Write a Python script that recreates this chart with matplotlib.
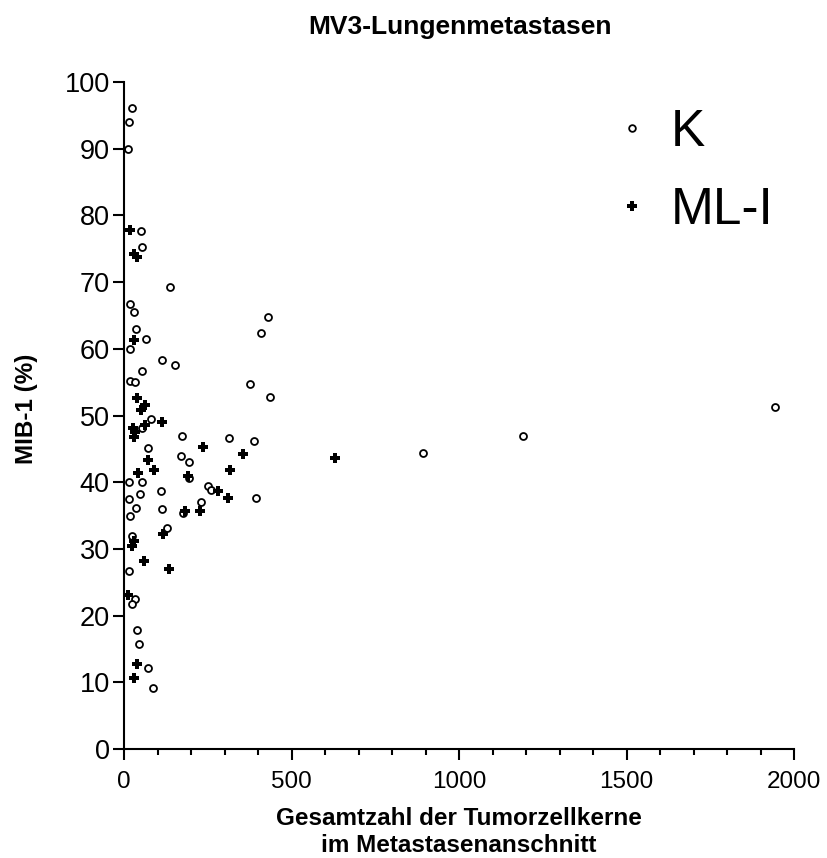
import numpy as np
import matplotlib
matplotlib.use("Agg")
from matplotlib import pyplot as plt
from matplotlib.lines import Line2D

plt.rcParams['font.family'] = ['Liberation Sans', 'DejaVu Sans']

# K group (open circles)
kX = [25, 16, 11, 50, 54, 138, 18, 30, 35, 65, 19, 114, 151, 53, 19, 32, 80, 55,
      174, 73, 171, 193, 193, 16, 55, 252, 260, 110, 48, 16, 229, 37, 113, 176, 19,
      23, 129, 15, 32, 23, 40, 44, 73, 87,
      430, 409, 376, 435, 312, 389, 892, 394, 1192, 1943]
kY = [96.1, 94.0, 90.0, 77.7, 75.2, 69.2, 66.7, 65.5, 63.0, 61.5, 60.0, 58.3, 57.6, 56.6, 55.1, 55.0, 49.5, 48.2,
      46.9, 45.2, 43.9, 43.0, 40.6, 40.1, 40.0, 39.5, 38.9, 38.7, 38.3, 37.5, 37.0, 36.1, 36.0, 35.4, 35.0,
      32.0, 33.1, 26.7, 22.5, 21.7, 17.8, 15.8, 12.2, 9.1,
      64.7, 62.4, 54.7, 52.8, 46.7, 46.2, 44.4, 37.7, 47.0, 51.3]

# ML-I group (plus)
mlX = [18, 30, 40, 29, 40, 62, 51, 112, 63, 28, 33, 31, 236, 72, 89, 43, 192, 282,
       183, 228, 30, 25, 116, 61, 133, 13, 40, 29, 356, 629, 315, 310]
mlY = [77.8, 74.2, 73.7, 61.3, 52.6, 51.6, 50.8, 49.1, 48.6, 48.2, 47.5, 46.8, 45.3, 43.4, 41.9, 41.4, 41.0, 38.7,
       35.7, 35.7, 31.2, 30.4, 32.2, 28.2, 27.0, 23.1, 12.8, 10.6, 44.2, 43.6, 41.8, 37.7]

W, H = 827, 858
fig = plt.figure(figsize=(W / 100, H / 100), dpi=100)
ax = fig.add_axes([124/W, 1 - 749/H, 670/W, 667/H])

ax.plot(kX, kY, 'o', markersize=5.0, markerfacecolor='white', markeredgecolor='black',
        markeredgewidth=1.3, linestyle='none', clip_on=False)
ax.plot(mlX, mlY, 'P', markersize=7.5, color='black', markeredgewidth=0, linestyle='none', clip_on=False)

ax.set_xlim(0, 2000)
ax.set_ylim(0, 100)
ax.spines['top'].set_visible(False)
ax.spines['right'].set_visible(False)
ax.spines['left'].set_linewidth(1.5)
ax.spines['bottom'].set_linewidth(1.5)

ax.set_xticks([0, 500, 1000, 1500, 2000])
ax.set_xticks(np.arange(0, 2001, 100), minor=True)
ax.set_yticks(np.arange(0, 101, 10))
ax.tick_params(axis='both', which='major', length=8.2, width=1.5, direction='out')
ax.tick_params(axis='x', which='major', labelsize=17.5, pad=7.5)
ax.tick_params(axis='y', which='major', labelsize=19.5, pad=2)
ax.tick_params(axis='x', which='minor', length=4.3, width=1.5)

# title and axis labels
fig.text(460/W, 1 - 34/H, "MV3-Lungenmetastasen", fontsize=19, fontweight='bold',
         ha='center', va='baseline')
fig.text(459/W, 1 - 825/H, "Gesamtzahl der Tumorzellkerne", fontsize=17.5, fontweight='bold',
         ha='center', va='baseline')
fig.text(459/W, 1 - 852/H, "im Metastasenanschnitt", fontsize=17.5, fontweight='bold',
         ha='center', va='baseline')
fig.text(26/W, 1 - 409/H, "MIB-1 (%)", fontsize=17.5, fontweight='bold', rotation=90,
         ha='center', va='center')

handles = [Line2D([], [], marker='o', linestyle='none', markersize=4.8, markerfacecolor='white',
                  markeredgecolor='black', markeredgewidth=1.3),
           Line2D([], [], marker='P', linestyle='none', markersize=7.5, color='black', markeredgewidth=0)]
ax.legend(handles, ["K", "ML-I"], loc='upper right', bbox_to_anchor=(1.008, 1.0), frameon=False,
          fontsize=37, handlelength=0.6, handletextpad=0.45, labelspacing=0.57, borderpad=0)

fig.savefig("out.png", dpi=100)
